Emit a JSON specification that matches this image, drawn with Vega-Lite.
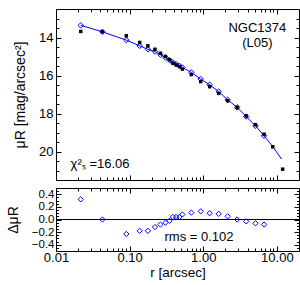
{
  "$schema": "https://vega.github.io/schema/vega-lite/v6.json",
  "padding": {"left": 5, "top": 8, "right": 3, "bottom": 3},
  "spacing": 3,
  "config": {
    "view": {"stroke": "#000", "strokeWidth": 1},
    "font": "Liberation Sans",
    "axis": {"domain": false, "grid": false, "tickColor": "#000", "tickWidth": 1, "labelColor": "#000", "labelFont": "Liberation Sans", "labelFontSize": 13, "titleFont": "Liberation Sans", "titleFontSize": 14, "titleFontWeight": "normal", "titleColor": "#000", "labelFlush": false, "labelOverlap": false},
    "text": {"font": "Liberation Sans", "fontSize": 13, "fontWeight": "normal", "color": "#000"}
  },
  "datasets": {
    "prof": [
      {"r": 0.0217, "mu": 13.68, "mod": 13.36, "fit": 13.36, "res": 0.32},
      {"r": 0.0427, "mu": 13.70, "mod": 13.70, "fit": 13.70, "res": 0.0},
      {"r": 0.0902, "mu": 13.91, "mod": 14.14, "fit": 14.14, "res": -0.23},
      {"r": 0.137, "mu": 14.26, "mod": 14.44, "fit": 14.44, "res": -0.18},
      {"r": 0.177, "mu": 14.44, "mod": 14.62, "fit": 14.62, "res": -0.18},
      {"r": 0.221, "mu": 14.62, "mod": 14.74, "fit": 14.74, "res": -0.12},
      {"r": 0.262, "mu": 14.83, "mod": 14.91, "fit": 14.91, "res": -0.08},
      {"r": 0.307, "mu": 15.00, "mod": 15.05, "fit": 15.05, "res": -0.05},
      {"r": 0.348, "mu": 15.17, "mod": 15.19, "fit": 15.19, "res": -0.02},
      {"r": 0.387, "mu": 15.35, "mod": 15.31, "fit": 15.31, "res": 0.04},
      {"r": 0.428, "mu": 15.44, "mod": 15.40, "fit": 15.40, "res": 0.04},
      {"r": 0.475, "mu": 15.53, "mod": 15.49, "fit": 15.49, "res": 0.04},
      {"r": 0.521, "mu": 15.66, "mod": 15.58, "fit": 15.58, "res": 0.08},
      {"r": 0.690, "mu": 15.95, "mod": 15.84, "fit": 15.84, "res": 0.11},
      {"r": 0.925, "mu": 16.32, "mod": 16.19, "fit": 16.19, "res": 0.13},
      {"r": 1.225, "mu": 16.59, "mod": 16.49, "fit": 16.49, "res": 0.10},
      {"r": 1.622, "mu": 16.94, "mod": 16.85, "fit": 16.85, "res": 0.09},
      {"r": 2.15, "mu": 17.33, "mod": 17.28, "fit": 17.28, "res": 0.05},
      {"r": 2.89, "mu": 17.68, "mod": 17.68, "fit": 17.68, "res": 0.0},
      {"r": 3.83, "mu": 18.13, "mod": 18.16, "fit": 18.16, "res": -0.03},
      {"r": 5.13, "mu": 18.59, "mod": 18.65, "fit": 18.65, "res": -0.06},
      {"r": 6.71, "mu": 19.09, "mod": 19.17, "fit": 19.17, "res": -0.08},
      {"r": 8.8, "mu": 19.75, "mod": null, "fit": 19.75, "res": null},
      {"r": 11.6, "mu": null, "mod": null, "fit": 20.4, "res": null},
      {"r": 12.0, "mu": 20.93, "mod": null, "fit": null, "res": null}
    ],
    "one": [{"k": 1}]
  },
  "vconcat": [
    {
      "width": 243,
      "height": 171,
      "layer": [
        {
          "data": {"name": "prof"},
          "mark": {"type": "line", "color": "#0000ff", "strokeWidth": 1},
          "encoding": {
            "x": {"field": "r", "type": "quantitative", "scale": {"type": "log", "domain": [0.01, 20], "nice": false},
              "axis": {"orient": "bottom", "values": [0.01,0.02,0.03,0.04,0.05,0.06,0.07,0.08,0.09,0.1,0.2,0.3,0.4,0.5,0.6,0.7,0.8,0.9,1,2,3,4,5,6,7,8,9,10], "labels": false, "title": null,
                "tickSize": {"condition": {"test": "datum.value == 0.01 || datum.value == 0.1 || datum.value == 1 || datum.value == 10", "value": -5}, "value": -3}}},
            "y": {"field": "fit", "type": "quantitative", "scale": {"domain": [12.5, 21.5], "reverse": true, "nice": false, "zero": false},
              "axis": {"orient": "left", "values": [13,13.5,14,14.5,15,15.5,16,16.5,17,17.5,18,18.5,19,19.5,20,20.5,21],
                "labelExpr": "datum.value % 2 == 0 ? format(datum.value, 'd') : ''",
                "tickSize": {"condition": {"test": "datum.value % 2 == 0", "value": -5}, "value": -3},
                "labelPadding": 8,
                "title": "μR [mag/arcsec²]", "titleX": -36, "titleBaseline": "middle"}}
          }
        },
        {
          "data": {"name": "prof"},
          "mark": {"type": "point", "shape": "diamond", "filled": false, "color": "#0000ff", "strokeWidth": 1, "size": 30, "opacity": 1},
          "encoding": {
            "x": {"field": "r", "type": "quantitative",
              "axis": {"orient": "top", "values": [0.01,0.02,0.03,0.04,0.05,0.06,0.07,0.08,0.09,0.1,0.2,0.3,0.4,0.5,0.6,0.7,0.8,0.9,1,2,3,4,5,6,7,8,9,10], "labels": false, "title": null,
                "tickSize": {"condition": {"test": "datum.value == 0.01 || datum.value == 0.1 || datum.value == 1 || datum.value == 10", "value": -5}, "value": -3}}},
            "y": {"field": "mod", "type": "quantitative",
              "axis": {"orient": "right", "values": [13,13.5,14,14.5,15,15.5,16,16.5,17,17.5,18,18.5,19,19.5,20,20.5,21], "labels": false, "title": null,
                "tickSize": {"condition": {"test": "datum.value % 2 == 0", "value": -5}, "value": -3}}}
          }
        },
        {
          "data": {"name": "prof"},
          "mark": {"type": "square", "color": "#000", "size": 12, "opacity": 1},
          "encoding": {
            "x": {"field": "r", "type": "quantitative", "axis": null},
            "y": {"field": "mu", "type": "quantitative", "axis": null}
          }
        },
        {
          "data": {"name": "one"},
          "mark": {"type": "text", "align": "center", "baseline": "middle", "fontWeight": "normal", "fontSize": 13},
          "encoding": {
            "x": {"datum": 5.43, "type": "quantitative", "axis": null},
            "y": {"datum": 13.52, "type": "quantitative", "axis": null},
            "text": {"value": "NGC1374"}
          }
        },
        {
          "data": {"name": "one"},
          "mark": {"type": "text", "align": "center", "baseline": "middle", "fontWeight": "normal", "fontSize": 13},
          "encoding": {
            "x": {"datum": 5.43, "type": "quantitative", "axis": null},
            "y": {"datum": 14.28, "type": "quantitative", "axis": null},
            "text": {"value": "(L05)"}
          }
        },
        {
          "data": {"name": "one"},
          "mark": {"type": "text", "align": "left", "baseline": "middle", "fontWeight": "normal", "fontSize": 13},
          "encoding": {
            "x": {"datum": 0.0158, "type": "quantitative", "axis": null},
            "y": {"datum": 20.65, "type": "quantitative", "axis": null},
            "text": {"value": "χ²ₛ =16.06"}
          }
        }
      ],
      "resolve": {"axis": {"x": "independent", "y": "independent"}}
    },
    {
      "width": 243,
      "height": 63,
      "layer": [
        {
          "data": {"name": "one"},
          "mark": {"type": "rule", "color": "#000", "strokeWidth": 1},
          "encoding": {
            "y": {"datum": 0, "type": "quantitative", "axis": null}
          }
        },
        {
          "data": {"name": "prof"},
          "mark": {"type": "point", "shape": "diamond", "filled": false, "color": "#0000ff", "strokeWidth": 1, "size": 28, "opacity": 1},
          "encoding": {
            "x": {"field": "r", "type": "quantitative", "scale": {"type": "log", "domain": [0.01, 20], "nice": false},
              "axis": {"orient": "bottom", "values": [0.01,0.02,0.03,0.04,0.05,0.06,0.07,0.08,0.09,0.1,0.2,0.3,0.4,0.5,0.6,0.7,0.8,0.9,1,2,3,4,5,6,7,8,9,10],
                "labelExpr": "(datum.value == 0.01 || datum.value == 0.1 || datum.value == 1 || datum.value == 10) ? format(datum.value, '.2f') : ''",
                "tickSize": {"condition": {"test": "datum.value == 0.01 || datum.value == 0.1 || datum.value == 1 || datum.value == 10", "value": -5}, "value": -3},
                "labelPadding": 5, "title": "r [arcsec]", "titlePadding": -1, "titleFontSize": 13.5}},
            "y": {"field": "res", "type": "quantitative", "scale": {"domain": [-0.5, 0.5], "nice": false, "zero": false},
              "axis": {"orient": "left", "values": [-0.45,-0.4,-0.35,-0.3,-0.25,-0.2,-0.15,-0.1,-0.05,0,0.05,0.1,0.15,0.2,0.25,0.3,0.35,0.4,0.45],
                "labelExpr": "abs(datum.value*5 - round(datum.value*5)) < 0.001 ? format(datum.value, '.1f') : ''",
                "tickSize": {"condition": {"test": "abs(datum.value*5 - round(datum.value*5)) < 0.001", "value": -5}, "value": -2.5},
                "labelPadding": 7, "labelFontSize": 11.5,
                "title": "ΔμR", "titleX": -43, "titleBaseline": "middle"}}
          }
        },
        {
          "data": {"name": "one"},
          "mark": {"type": "text", "align": "center", "baseline": "middle", "fontWeight": "normal", "fontSize": 13},
          "encoding": {
            "x": {"datum": 0.877, "type": "quantitative",
              "axis": {"orient": "top", "values": [0.01,0.02,0.03,0.04,0.05,0.06,0.07,0.08,0.09,0.1,0.2,0.3,0.4,0.5,0.6,0.7,0.8,0.9,1,2,3,4,5,6,7,8,9,10], "labels": false, "title": null,
                "tickSize": {"condition": {"test": "datum.value == 0.01 || datum.value == 0.1 || datum.value == 1 || datum.value == 10", "value": -5}, "value": -3}}},
            "y": {"datum": -0.274, "type": "quantitative",
              "axis": {"orient": "right", "values": [-0.45,-0.4,-0.35,-0.3,-0.25,-0.2,-0.15,-0.1,-0.05,0,0.05,0.1,0.15,0.2,0.25,0.3,0.35,0.4,0.45], "labels": false, "title": null,
                "tickSize": {"condition": {"test": "abs(datum.value*5 - round(datum.value*5)) < 0.001", "value": -5}, "value": -2.5}}},
            "text": {"value": "rms = 0.102"}
          }
        }
      ],
      "resolve": {"axis": {"x": "independent", "y": "independent"}}
    }
  ]
}
